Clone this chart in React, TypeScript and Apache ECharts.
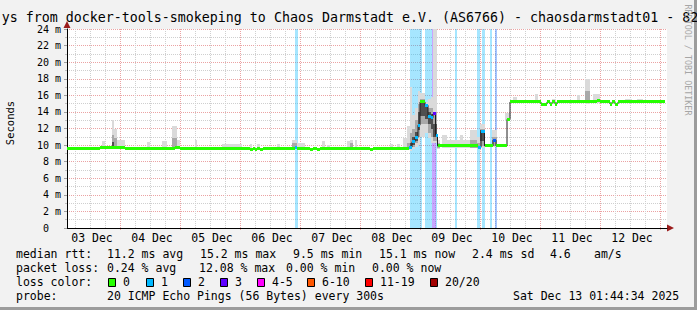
import React, { useEffect, useRef } from 'react';
import * as echarts from 'echarts';

// ---------- texts ----------
const TITLE = 'ys from docker-tools-smokeping to Chaos Darmstadt e.V. (AS6766) - chaosdarmstadt01 - 82';
const WATERMARK = 'RRDTOOL / TOBI OETIKER';
const Y_TITLE = 'Seconds';

// ---------- x axis: hours since 03 Dec 00:00 ----------
const X_MIN = 2.8;
const X_MAX = 242.8;
const dayLabels = ['03 Dec', '04 Dec', '05 Dec', '06 Dec', '07 Dec', '08 Dec', '09 Dec', '10 Dec', '11 Dec', '12 Dec'];
const dayNoonHours = [12, 36, 60, 84, 108, 132, 156, 180, 204, 228];

// ---------- median rtt (step segments) ----------
const medT = [2.8, 16, 26, 46, 48, 76, 77.2, 78, 78.8, 80, 81.2, 94, 94.8, 100, 101.2, 102.8, 104, 124, 125.2, 139.6,
  140.8, 142, 143.2, 144, 146, 147.2, 148.4, 149.2, 150.2, 151, 167.2, 168.4, 169.8, 173.2, 174.4, 178.8, 180, 192.4,
  194.8, 196, 196.8, 198, 198.8, 214.8, 216, 220, 220.8, 222, 223.2, 242];
const medV = [9.6, 9.7, 9.6, 9.7, 9.6, 9.45, 9.6, 9.45, 9.6, 9.45, 9.6, 9.7, 9.6, 9.45, 9.6, 9.45, 9.55, 9.45, 9.55,
  9.75, 10.4, 10.9, 12.4, 15.2, 14.8, 13.5, 13.3, 13.75, 11.2, 9.9, 9.75, 11.6, 9.9, 10.6, 9.9, 13.1, 15.2, 14.95,
  15.2, 14.95, 15.2, 14.95, 15.2, 15.35, 15.2, 14.95, 15.2, 14.95, 15.2];
const medLoss = [0, 0, 0, 0, 0, 0, 0, 0, 0, 0, 0, 1, 0, 0, 0, 0, 0, 0, 0,
  1, 1, 1, 1, 0, 1, 1, 1, 3, 1, 0, 1, 1, 0, 2, 0, 0, 0, 0,
  0, 0, 0, 0, 0, 0, 0, 0, 0, 0, 0];

// ---------- loss background bands ----------
const bandStart = [94, 140, 146, 148.8, 150.3, 157.8, 166.7, 168.7, 172, 174];
const bandEnd = [95, 144.7, 148.8, 150.3, 150.7, 158.7, 168, 170, 172.8, 174.8];
const bandLoss = [1, 1, 1, 3, 1, 1, 1, 1, 1, 2];

// ---------- smoke: [t0, t1, low ms, high ms] ----------
const smokeLight = [
  [16.7, 18, 9.5, 10.5], [20.7, 21.6, 9.5, 13.0], [21.6, 22.7, 9.5, 11.9], [22.7, 26, 9.5, 10.6],
  [34.7, 36, 9.5, 10.4], [40.7, 42.7, 9.5, 10.5], [44.7, 46.7, 9.5, 12.3], [46.7, 48, 9.5, 10.6],
  [54, 54.7, 9.5, 10.6], [64.7, 72.7, 9.5, 10.1], [76, 76.7, 9.4, 10.1], [78.7, 80, 9.4, 10.1],
  [86.7, 88, 9.5, 10.1], [92.7, 94.7, 9.5, 10.6], [94.7, 98, 9.5, 10.3], [104.7, 106, 9.5, 10.5],
  [106.7, 108, 9.5, 10.0], [114.7, 116, 9.5, 10.5], [116, 117.1, 9.5, 10.6], [118, 118.9, 9.5, 10.6],
  [132, 133.2, 9.5, 10.1], [134.7, 136, 9.5, 10.1], [137.2, 138.7, 9.5, 10.9], [138.7, 140, 9.4, 12.3],
  [140, 140.8, 9.3, 17.0], [140.8, 142, 9.5, 13.6], [142, 143.2, 9.8, 14.5], [143.2, 144, 10.0, 16.5],
  [144, 146, 11.0, 16.3], [146, 147.2, 11.5, 15.2], [147.2, 148.4, 10.8, 15.5], [148.4, 149.2, 10.2, 15.8],
  [149.2, 150.7, 10.3, 24.5], [150.7, 152, 9.5, 10.6], [152.7, 154.7, 9.6, 11.2], [154.7, 160, 9.7, 10.6],
  [160, 161.2, 9.7, 11.2], [161.2, 164, 9.7, 10.6], [164, 166.7, 9.6, 11.8], [166.7, 168, 9.5, 11.0],
  [168, 170, 9.7, 12.5], [172.7, 174.7, 9.8, 11.8], [178, 180, 12.9, 13.9], [181.2, 182.8, 15.1, 15.8],
  [184.8, 188, 15.1, 15.4], [190, 191.2, 15.1, 16.2], [196.8, 198.4, 15.1, 15.5], [206.8, 208, 15.1, 16.0],
  [210, 212, 15.0, 18.0], [213.2, 216, 15.1, 16.2], [226, 228.8, 15.1, 15.5], [230.8, 233.2, 15.1, 15.6],
  [236, 240, 15.1, 15.4],
];
const smokeMid = [
  [20.7, 21.6, 9.6, 11.2], [21.6, 22.7, 9.6, 10.8], [44.7, 46.7, 9.6, 10.9], [92.7, 94.7, 9.6, 10.3],
  [116, 117.1, 9.6, 10.3], [138.7, 140, 9.5, 10.2], [140, 140.8, 9.5, 11.5], [140.8, 142, 9.8, 12.0],
  [142, 143.2, 10.2, 13.0], [143.2, 144, 11.0, 15.0], [144, 146, 12.5, 15.5], [146, 147.2, 12.5, 15.0],
  [147.2, 148.4, 11.5, 14.5], [148.4, 149.2, 11.0, 14.5], [149.2, 150.7, 10.5, 14.0], [150.7, 152, 9.6, 10.2],
  [164, 166.7, 9.7, 10.6], [166.7, 168, 9.6, 10.3], [168, 170, 9.9, 12.0], [172.7, 174.7, 9.9, 11.0],
  [210, 212, 15.1, 16.5],
];
const smokeDark = [
  [20.7, 21.6, 9.6, 10.4], [140, 140.8, 9.6, 10.3], [140.8, 142, 10.0, 11.0], [142, 143.2, 10.5, 11.6],
  [143.2, 144, 11.8, 14.0], [144, 146, 13.5, 15.2], [146, 147.2, 13.2, 14.8], [147.2, 148.4, 12.5, 14.0],
  [148.4, 149.2, 12.0, 13.8], [149.2, 150.7, 11.0, 12.5], [168, 170, 10.5, 11.8],
];

// ---------- legend ----------
const lossColors = ['#26ff00', '#00b8ff', '#0059ff', '#5e00ff', '#ff00fe', '#ff5700', '#ff0000', '#a10000'];
const lossLabels = ['0', '1', '2', '3', '4-5', '6-10', '11-19', '20/20'];
const rttTexts = ['median rtt:', '11.2 ms avg', '15.2 ms max', '9.5 ms min', '15.1 ms now', '2.4 ms sd', '4.6', 'am/s'];
const lossTexts = ['packet loss:', '0.24 % avg', '12.08 % max', '0.00 % min', '0.00 % now'];
const probeTexts = ['probe:', '20 ICMP Echo Pings (56 Bytes) every 300s', 'Sat Dec 13 01:44:34 2025'];

// layout (pixels)
const rttX = [16, 107, 200, 293, 379, 472, 550, 594];
const lossX = [16, 107, 199, 286, 372];
const probeX = [16, 107, 513];
const swatchX = [108, 146, 183, 220, 257, 307, 365, 430];
const MONO = '"DejaVu Sans Mono", monospace';

const lossIndex = (n: number) => (n <= 3 ? n : n <= 5 ? 4 : n <= 10 ? 5 : n <= 19 ? 6 : 7);
const bandColor = (n: number) => {
  const c = lossColors[lossIndex(n)];
  const r = parseInt(c.slice(1, 3), 16), g = parseInt(c.slice(3, 5), 16), b = parseInt(c.slice(5, 7), 16);
  return `rgba(${r},${g},${b},0.35)`;
};

const rectSeries = (rows: number[][], color: string, z: number) => ({
  type: 'custom',
  z,
  silent: true,
  clip: true,
  data: rows,
  renderItem: (_p: any, api: any) => {
    const a = api.coord([api.value(0), api.value(3)]);
    const b = api.coord([api.value(1), api.value(2)]);
    const x0 = Math.round(a[0]);
    const x1 = Math.round(b[0]);
    const y0 = Math.round(a[1]);
    const y1 = Math.round(b[1]);
    return { type: 'rect', shape: { x: x0, y: y0, width: Math.max(1, x1 - x0), height: Math.max(1, y1 - y0) }, style: { fill: color } };
  },
});

const text = (x: number, y: number, t: string, size = 11.5, extra: any = {}) => ({
  type: 'text',
  x,
  y,
  silent: true,
  style: {
    text: t,
    fill: '#000',
    fontSize: size,
    fontFamily: MONO,
    textAlign: 'left',
    textVerticalAlign: 'middle',
    align: 'left',
    verticalAlign: 'middle',
    ...extra,
  },
});

export default function App() {
  const ref = useRef<HTMLDivElement>(null);

  useEffect(() => {
    document.body.style.margin = '0';
    if (!ref.current) return;
    const chart = echarts.init(ref.current, undefined, { renderer: 'svg' });

    const gridHours: number[] = [];
    for (let h = 6; h < X_MAX; h += 6) gridHours.push(h);

    const medianRows = medV.map((v, i) => [medT[i], medT[i + 1], v, medLoss[i]]);
    const medianLine: number[][] = medV.map((v, i) => [medT[i], v]);
    medianLine.push([medT[medT.length - 1], medV[medV.length - 1]]);
    const bandRows = bandStart.map((s, i) => [s, bandEnd[i], bandLoss[i]]);

    const graphics: any[] = [];
    // frame shading
    graphics.push({ type: 'rect', shape: { x: 694, y: 0, width: 3, height: 310 }, style: { fill: '#9c9c9c' }, silent: true });
    graphics.push({ type: 'rect', shape: { x: 0, y: 307, width: 697, height: 3 }, style: { fill: '#9c9c9c' }, silent: true });
    // title
    graphics.push(text(1.7, 17.5, TITLE, 13.3));
    // watermark
    graphics.push(text(688, 60, WATERMARK, 8.4, { fill: '#a6a6a6', textAlign: 'center', align: 'center' }));
    graphics[graphics.length - 1].rotation = -Math.PI / 2;
    // y axis title
    graphics.push(text(10, 123, Y_TITLE, 10.5, { textAlign: 'center', align: 'center' }));
    graphics[graphics.length - 1].rotation = Math.PI / 2;
    // axis arrows
    graphics.push({ type: 'polygon', silent: true, shape: { points: [[674, 228], [667, 224.5], [667, 231.5]] }, style: { fill: '#9b1c1c' } });
    graphics.push({ type: 'polygon', silent: true, shape: { points: [[67, 21], [63.5, 28], [70.5, 28]] }, style: { fill: '#9b1c1c' } });
    // legend rows
    rttTexts.forEach((t, i) => graphics.push(text(rttX[i], 254, t)));
    lossTexts.forEach((t, i) => graphics.push(text(lossX[i], 268, t)));
    graphics.push(text(16, 282, 'loss color:'));
    lossLabels.forEach((l, i) => {
      graphics.push({ type: 'rect', silent: true, shape: { x: swatchX[i] + 0.5, y: 278.5, width: 7, height: 8 }, style: { fill: lossColors[i], stroke: '#000', lineWidth: 1 } });
      graphics.push(text(swatchX[i] + 15, 282, l));
    });
    probeTexts.forEach((t, i) => graphics.push(text(probeX[i], 296, t)));

    chart.setOption({
      animation: false,
      backgroundColor: '#f2f2f2',
      textStyle: { fontFamily: MONO },
      grid: { left: 67, top: 29, width: 600, height: 199, show: true, backgroundColor: '#ffffff', borderWidth: 0 },
      xAxis: {
        type: 'value',
        min: X_MIN,
        max: X_MAX,
        axisLine: { show: true, lineStyle: { color: '#000', width: 1 } },
        axisTick: { show: false },
        splitLine: { show: false },
        axisLabel: {
          customValues: dayNoonHours,
          formatter: (v: number) => {
            const i = dayNoonHours.findIndex((d) => Math.abs(d - v) < 0.01);
            return i >= 0 ? dayLabels[i] : '';
          },
          fontFamily: MONO,
          fontSize: 11.5,
          color: '#000',
          margin: 4,
          padding: [0, 0, 0, 4],
        },
      },
      yAxis: {
        type: 'value',
        min: 0,
        max: 24,
        interval: 2,
        axisLine: { show: true, lineStyle: { color: '#000', width: 1 } },
        axisTick: { show: true, length: 3, lineStyle: { color: '#a0a0a0' } },
        minorTick: { show: true, splitNumber: 2, length: 2, lineStyle: { color: '#c0c0c0' } },
        splitLine: { show: true, lineStyle: { color: '#eba3a3', type: [1, 1], width: 1 } },
        minorSplitLine: { show: true, lineStyle: { color: '#cfcfcf', type: [1, 1], width: 1 } },
        axisLabel: {
          formatter: (v: number) => (v === 0 ? '{z|0}' : `${v} m`),
          rich: { z: { fontFamily: MONO, fontSize: 10, color: '#000', padding: [0, 12, 0, 0] } },
          fontFamily: MONO,
          fontSize: 10,
          color: '#000',
          margin: 6,
        },
      },
      series: [
        {
          type: 'custom',
          z: 1,
          silent: true,
          data: gridHours,
          renderItem: (_p: any, api: any) => {
            const t = api.value(0);
            const bottom = api.coord([t, 0]);
            const top = api.coord([t, 24]);
            const major = Math.abs(t % 24) < 0.01;
            const x = Math.round(bottom[0]) + 0.5;
            return {
              type: 'line',
              shape: { x1: x, y1: top[1], x2: x, y2: bottom[1] + (major ? 3 : 0) },
              style: { stroke: major ? '#eba3a3' : '#cfcfcf', lineWidth: 1, lineDash: [1, 1] },
            };
          },
        },
        {
          type: 'custom',
          z: 2,
          silent: true,
          data: bandRows,
          renderItem: (_p: any, api: any) => {
            const a = api.coord([api.value(0), 24]);
            const b = api.coord([api.value(1), 0]);
            const x0 = Math.round(a[0]);
            const x1 = Math.round(b[0]);
            return { type: 'rect', shape: { x: x0, y: a[1], width: Math.max(1, x1 - x0), height: b[1] - a[1] }, style: { fill: bandColor(api.value(2)) } };
          },
        },
        rectSeries(smokeLight, '#dadada', 3),
        rectSeries(smokeMid, '#a9a9a9', 3),
        rectSeries(smokeDark, '#4f4f4f', 3),
        {
          type: 'line',
          z: 4,
          silent: true,
          step: 'end',
          symbol: 'none',
          data: medianLine,
          lineStyle: { color: '#202020', width: 1 },
        },
        {
          type: 'custom',
          z: 5,
          silent: true,
          data: medianRows,
          renderItem: (_p: any, api: any) => {
            const a = api.coord([api.value(0), api.value(2)]);
            const b = api.coord([api.value(1), api.value(2)]);
            const x0 = Math.round(a[0]);
            const x1 = Math.round(b[0]);
            return {
              type: 'rect',
              shape: { x: x0, y: Math.round(a[1] - 1.5), width: Math.max(1, x1 - x0), height: 3 },
              style: { fill: lossColors[lossIndex(api.value(3))] },
            };
          },
        },
      ],
      graphic: graphics,
    });

    return () => chart.dispose();
  }, []);

  return <div ref={ref} style={{ width: 697, height: 310 }} />;
}
